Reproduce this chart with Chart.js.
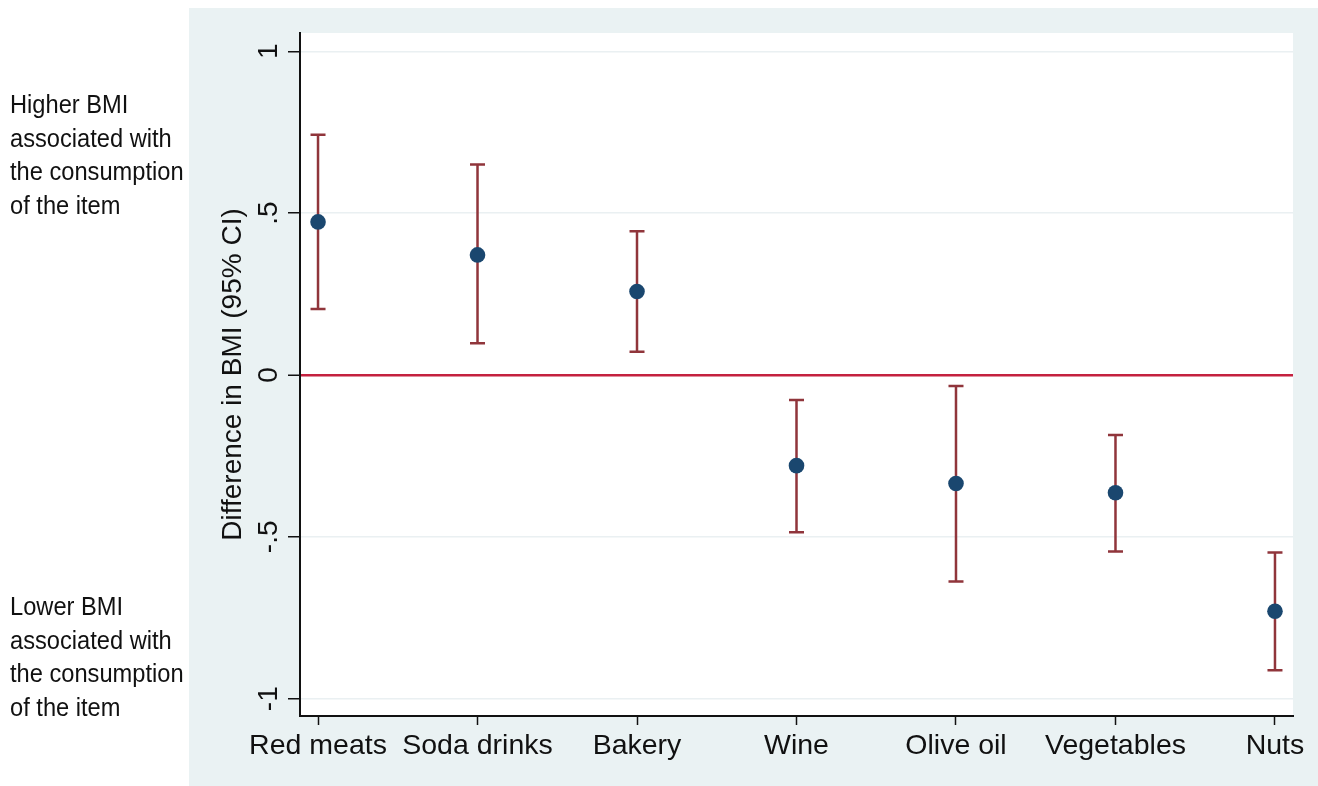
<!DOCTYPE html>
<html>
<head>
<meta charset="utf-8">
<script src="https://cdn.jsdelivr.net/npm/chart.js@4.4.1/dist/chart.umd.min.js"></script>
<style>
  html, body { margin: 0; padding: 0; background: #fff; }
  #wrap { position: relative; width: 1318px; height: 786px; }
  .note {
    position: absolute; left: 10px;
    font-family: "Liberation Sans", Arial, sans-serif;
    font-size: 26px; line-height: 33.5px; color: #111;
    white-space: nowrap;
    transform: scaleX(0.91); transform-origin: left top;
  }
</style>
</head>
<body>
<div id="wrap">
  <canvas id="bmiChart" width="1318" height="786"></canvas>
  <div class="note" style="top:88px">Higher BMI<br>associated with<br>the consumption<br>of the item</div>
  <div class="note" style="top:590px">Lower BMI<br>associated with<br>the consumption<br>of the item</div>
</div>
<script>
// food items and their BMI difference with 95% CI
const categories = ['Red meats', 'Soda drinks', 'Bakery', 'Wine', 'Olive oil', 'Vegetables', 'Nuts'];
const estimate = [0.473, 0.371, 0.258, -0.280, -0.335, -0.364, -0.730];
const ciLower = [0.204, 0.098, 0.072, -0.486, -0.638, -0.545, -0.912];
const ciUpper = [0.742, 0.650, 0.444, -0.077, -0.034, -0.185, -0.548];
const yTickValues = [-1, -0.5, 0, 0.5, 1];
const yTickLabels = ['-1', '-.5', '0', '.5', '1'];

const FONT = '"Liberation Sans", Arial, sans-serif';
const PANEL = '#eaf2f3';

// panel background, white plot region, error bars, rotated y labels
const stataLook = {
  id: 'stataLook',
  beforeDraw(chart) {
    const c = chart.ctx, a = chart.chartArea;
    c.save();
    c.fillStyle = PANEL;
    c.fillRect(189, 8, chart.width - 189, chart.height - 8);
    c.fillStyle = '#fff';
    c.fillRect(a.left, a.top, a.right - a.left, a.bottom - a.top);
    c.restore();
  },
  beforeDatasetsDraw(chart) {
    const c = chart.ctx, x = chart.scales.x, y = chart.scales.y;
    c.save();
    c.strokeStyle = '#90353b';
    c.lineWidth = 2.5;
    categories.forEach((_, i) => {
      const px = x.getPixelForValue(i);
      const lo = y.getPixelForValue(ciLower[i]);
      const hi = y.getPixelForValue(ciUpper[i]);
      c.beginPath();
      c.moveTo(px, lo); c.lineTo(px, hi);
      c.moveTo(px - 7.5, lo); c.lineTo(px + 7.5, lo);
      c.moveTo(px - 7.5, hi); c.lineTo(px + 7.5, hi);
      c.stroke();
    });
    c.restore();
  },
  afterDraw(chart) {
    const c = chart.ctx, y = chart.scales.y, a = chart.chartArea;
    c.save();
    c.fillStyle = '#111';
    c.textAlign = 'center';
    c.textBaseline = 'alphabetic';
    c.font = '28px ' + FONT;
    yTickValues.forEach((v, i) => {
      c.save();
      c.translate(277, y.getPixelForValue(v));
      c.rotate(-Math.PI / 2);
      c.fillText(yTickLabels[i], 0, 0);
      c.restore();
    });
    c.translate(241, (a.top + a.bottom) / 2);
    c.rotate(-Math.PI / 2);
    c.fillText('Difference in BMI (95% CI)', 0, 0);
    c.restore();
  }
};

new Chart(document.getElementById('bmiChart'), {
  type: 'scatter',
  data: {
    datasets: [{
      data: estimate.map((v, i) => ({ x: i, y: v })),
      backgroundColor: '#1a476f',
      borderColor: '#1a476f',
      borderWidth: 0,
      pointRadius: 7.8,
      pointHoverRadius: 7.8
    }]
  },
  options: {
    responsive: false,
    animation: false,
    layout: { padding: { left: 189, top: 33, right: 25, bottom: 0 } },
    plugins: { legend: { display: false }, tooltip: { enabled: false } },
    scales: {
      x: {
        type: 'linear',
        min: -0.113,
        max: 6.113,
        afterBuildTicks(scale) { scale.ticks = categories.map((_, i) => ({ value: i })); },
        afterFit(scale) { scale.height = 70; },
        grid: { drawOnChartArea: false, tickLength: 9, tickColor: '#111', tickWidth: 1.5 },
        border: { color: '#111', width: 2 },
        ticks: {
          autoSkip: false,
          maxRotation: 0,
          padding: 4,
          color: '#111',
          font: { family: FONT, size: 28.5 },
          callback: (v) => categories[v]
        }
      },
      y: {
        min: -1.0535,
        max: 1.0566,
        afterBuildTicks(scale) { scale.ticks = yTickValues.map(v => ({ value: v })); },
        afterFit(scale) { scale.width = 111; },
        grid: {
          color: (ctx) => ctx.tick && ctx.tick.value === 0 ? '#c4213f' : '#eaf0f2',
          lineWidth: (ctx) => ctx.tick && ctx.tick.value === 0 ? 2.5 : 1.5,
          tickLength: 12,
          tickColor: '#111',
          tickWidth: 1.5
        },
        border: { color: '#111', width: 2 },
        ticks: { display: false }
      }
    }
  },
  plugins: [stataLook]
});
</script>
</body>
</html>
